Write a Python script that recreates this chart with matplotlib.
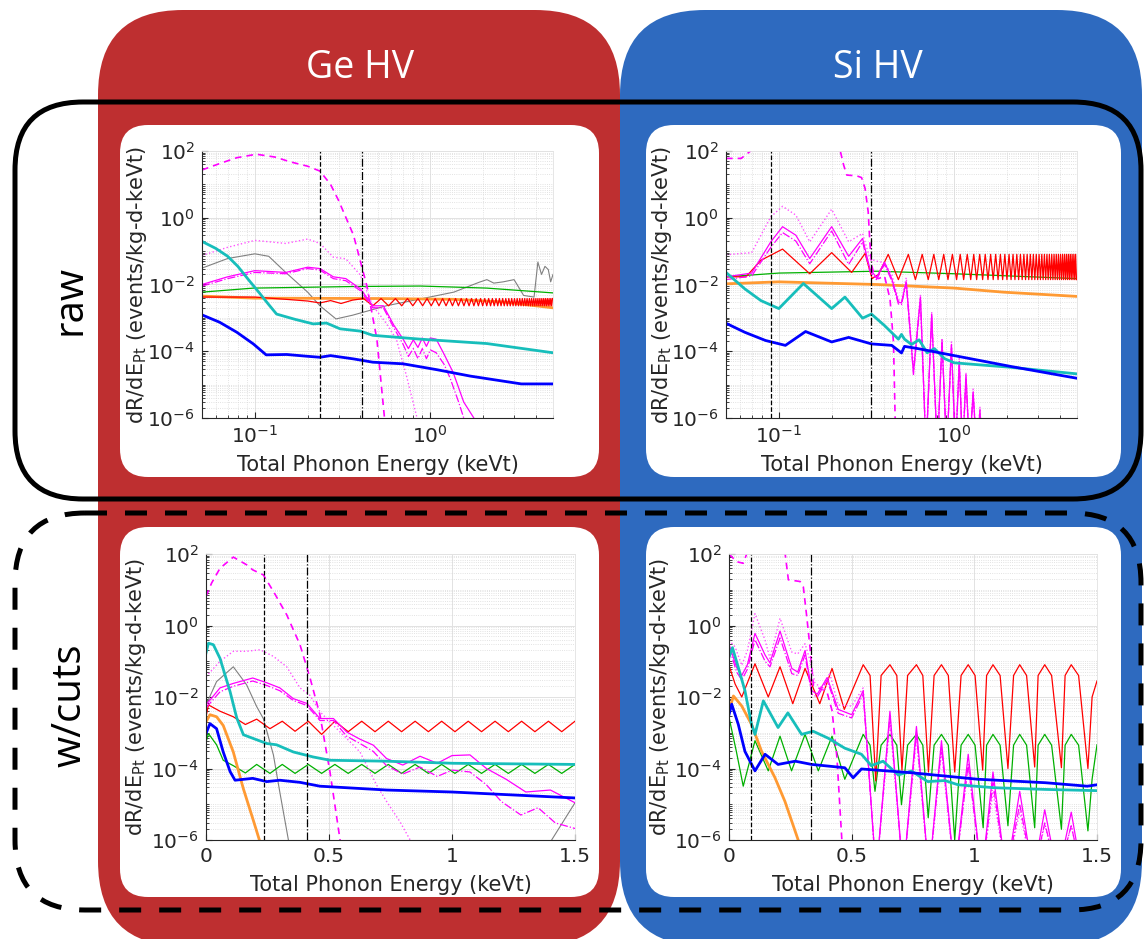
import numpy as np
import matplotlib.pyplot as plt
from matplotlib.patches import FancyBboxPatch
from matplotlib.ticker import FixedLocator, LogLocator, LogFormatterMathtext, NullFormatter

# energies in keVt, rates in events/kg-d-keVt

# ---- Ge HV, raw ----
ge_raw_mag_dash = [(0.05, 27), (0.063, 42), (0.079, 63), (0.102, 80), (0.13, 66), (0.16, 47), (0.2, 35),
                   (0.235, 25), (0.27, 10), (0.3, 3.3), (0.365, 0.3), (0.435, 0.009), (0.496, 2.3e-4),
                   (0.548, 1e-6), (0.56, 1e-7)]
ge_raw_mag_dot = [(0.05, 0.074), (0.07, 0.13), (0.1, 0.21), (0.15, 0.17), (0.2, 0.23), (0.235, 0.17),
                  (0.28, 0.066), (0.33, 0.059), (0.4, 0.019), (0.47, 0.0023), (0.56, 7e-4), (0.64, 2.3e-4),
                  (0.73, 1.9e-5), (0.84, 1e-6), (0.86, 1e-7)]
ge_raw_mag_solid = [(0.05, 0.01), (0.07, 0.017), (0.1, 0.026), (0.15, 0.023), (0.2, 0.033), (0.235, 0.03),
                    (0.28, 0.017), (0.33, 0.015), (0.4, 0.0074), (0.47, 0.0023), (0.54, 0.0023), (0.62, 6e-4),
                    (0.7, 2.3e-4), (0.75, 1.2e-4), (0.8, 2.2e-4), (0.85, 1.3e-4), (0.9, 2.5e-4), (0.95, 1.4e-4),
                    (1.0, 2.5e-4), (1.08, 2.3e-4), (1.2, 8e-5), (1.35, 2.3e-5), (1.55, 3e-6), (1.77, 1e-6),
                    (1.8, 1e-7)]
ge_raw_mag_dashdot = [(0.05, 0.009), (0.07, 0.015), (0.1, 0.023), (0.15, 0.021), (0.2, 0.03), (0.235, 0.027),
                      (0.28, 0.015), (0.33, 0.013), (0.4, 0.0065), (0.47, 0.002), (0.54, 0.002), (0.62, 5e-4),
                      (0.7, 1.6e-4), (0.75, 7e-5), (0.8, 1.2e-4), (0.85, 6e-5), (0.9, 1.2e-4), (0.95, 6e-5),
                      (1.0, 1.1e-4), (1.08, 9e-5), (1.2, 4e-5), (1.3, 1.5e-5), (1.45, 3e-6), (1.55, 1e-6),
                      (1.57, 1e-7)]
ge_raw_gray = [(0.05, 0.031), (0.07, 0.06), (0.1, 0.083), (0.12, 0.07), (0.15, 0.023), (0.2, 0.0059),
               (0.235, 0.0023), (0.29, 9.3e-4), (0.36, 1.2e-3), (0.56, 2.3e-3), (0.88, 3.7e-3), (1.36, 5.9e-3),
               (1.9, 0.0117), (2.1, 0.014), (2.3, 0.011), (2.6, 0.012), (3.0, 0.014), (3.2, 0.008),
               (3.4, 0.0047), (3.9, 0.0042), (4.1, 0.047), (4.3, 0.02), (4.5, 0.035), (4.7, 0.028),
               (4.85, 0.012), (5.0, 0.02)]
ge_raw_green = [(0.05, 0.0059), (0.098, 0.0078), (0.364, 0.0087), (0.876, 0.009), (2.1, 0.0078), (5.0, 0.0056)]
ge_raw_orange = [(0.05, 0.0045), (0.1, 0.0039), (0.5, 0.0038), (1.36, 0.0036), (2.6, 0.003), (5.0, 0.002)]
ge_raw_red_start = [(0.05, 0.0042), (0.1, 0.0042), (0.15, 0.0036), (0.2, 0.0032), (0.235, 0.0028),
                    (0.27, 0.0033), (0.31, 0.0027), (0.36, 0.0034)]
ge_raw_red_peaks = [0.416, 0.524, 0.633, 0.741, 0.85, 0.958, 1.066, 1.175, 1.283, 1.392, 1.5, 1.608, 1.717,
                    1.825, 1.933, 2.042, 2.15, 2.258, 2.367, 2.475, 2.583, 2.692, 2.8, 2.908, 3.017, 3.125,
                    3.233, 3.342, 3.45, 3.558, 3.667, 3.775, 3.883, 3.992, 4.1, 4.208, 4.317, 4.425, 4.533,
                    4.642, 4.75, 4.858, 4.967]
ge_raw_red_troughs = [0.47, 0.578, 0.687, 0.795, 0.904, 1.012, 1.12, 1.229, 1.337, 1.446, 1.554, 1.662, 1.771,
                      1.879, 1.987, 2.096, 2.204, 2.312, 2.421, 2.529, 2.637, 2.746, 2.854, 2.962, 3.071, 3.179,
                      3.287, 3.396, 3.504, 3.612, 3.721, 3.829, 3.937, 4.046, 4.154, 4.262, 4.371, 4.479, 4.587,
                      4.696, 4.804, 4.912]
ge_raw_red_hi, ge_raw_red_lo = 0.0038, 0.0023
ge_raw_cyan = [(0.05, 0.195), (0.06, 0.12), (0.07, 0.07), (0.08, 0.035), (0.093, 0.013), (0.105, 0.006),
               (0.12, 0.0025), (0.133, 0.0013), (0.17, 9e-4), (0.215, 6.6e-4), (0.256, 7e-4), (0.306, 4.7e-4),
               (0.4, 4e-4), (0.47, 3e-4), (0.88, 2.3e-4), (2.1, 1.7e-4), (5.0, 9e-5)]
ge_raw_blue = [(0.05, 1.23e-3), (0.063, 7.4e-4), (0.079, 3.7e-4), (0.098, 1.66e-4), (0.116, 7.8e-5),
               (0.152, 8e-5), (0.197, 7.1e-5), (0.235, 6.6e-5), (0.27, 7.4e-5), (0.365, 5.9e-5), (0.47, 4.7e-5),
               (0.7, 4.2e-5), (1.09, 2.8e-5), (1.69, 1.8e-5), (3.3, 1.05e-5), (5.0, 1.05e-5)]

# ---- Si HV, raw ----
si_raw_mag_dash = [(0.05, 60), (0.061, 60), (0.069, 100), (0.075, 300), (0.21, 300), (0.224, 100), (0.234, 38),
                   (0.244, 19), (0.278, 18), (0.296, 16), (0.31, 7.6), (0.323, 1.5), (0.33, 0.19),
                   (0.338, 0.038), (0.35, 0.018), (0.37, 0.015), (0.4, 0.018), (0.43, 0.0037), (0.45, 1.9e-4),
                   (0.46, 1e-6), (0.462, 1e-7)]
si_raw_mag_dot = [(0.05, 0.078), (0.07, 0.09), (0.09, 1.07), (0.105, 2.2), (0.125, 1.2), (0.15, 0.19),
                  (0.2, 1.8), (0.25, 0.19), (0.3, 0.34), (0.33, 0.06), (0.36, 0.05), (0.4, 0.045), (0.44, 0.02),
                  (0.48, 3.5e-3), (0.5, 3.2e-3), (0.532, 0.016), (0.585, 3e-5), (0.641, 5e-3), (0.69, 1e-7),
                  (0.743, 1.5e-3), (0.8, 1e-7), (0.851, 2.5e-4), (0.905, 1e-7), (0.963, 1.9e-4), (1.015, 1e-7),
                  (1.067, 6e-5), (1.115, 1e-7), (1.165, 2.3e-5), (1.22, 1e-7), (1.28, 7.4e-6), (1.34, 1e-7),
                  (1.4, 2.1e-6), (1.44, 1e-7)]
si_raw_mag_solid = [(0.05, 0.017), (0.07, 0.022), (0.09, 0.19), (0.105, 0.54), (0.125, 0.3), (0.15, 0.06),
                    (0.2, 0.54), (0.25, 0.07), (0.3, 0.24), (0.33, 0.03), (0.36, 0.016), (0.4, 0.047),
                    (0.44, 0.015), (0.48, 3e-3), (0.5, 2.8e-3), (0.532, 0.012), (0.585, 2.3e-5), (0.641, 4.2e-3),
                    (0.69, 1e-7), (0.743, 1.3e-3), (0.8, 1e-7), (0.851, 2.1e-4), (0.905, 1e-7), (0.963, 1.6e-4),
                    (1.015, 1e-7), (1.067, 5e-5), (1.115, 1e-7), (1.165, 2e-5), (1.22, 1e-7), (1.28, 6e-6),
                    (1.34, 1e-7), (1.4, 1.8e-6), (1.44, 1e-7)]
si_raw_mag_dashdot = [(0.05, 0.014), (0.07, 0.018), (0.09, 0.13), (0.105, 0.36), (0.125, 0.2), (0.15, 0.042),
                      (0.2, 0.4), (0.25, 0.04), (0.3, 0.19), (0.33, 0.025), (0.36, 0.014), (0.4, 0.04),
                      (0.44, 0.013), (0.48, 2.6e-3), (0.5, 2.5e-3), (0.532, 0.011), (0.585, 2e-5),
                      (0.641, 3.5e-3), (0.69, 1e-7), (0.743, 1.1e-3), (0.8, 1e-7), (0.851, 1.8e-4), (0.905, 1e-7),
                      (0.963, 1.3e-4), (1.015, 1e-7), (1.067, 4e-5), (1.115, 1e-7), (1.165, 1.6e-5),
                      (1.22, 1e-7), (1.28, 5e-6), (1.34, 1e-7)]
si_raw_green = [(0.05, 0.017), (0.1, 0.022), (0.364, 0.025), (1.0, 0.021), (5.0, 0.015)]
si_raw_orange = [(0.05, 0.0105), (0.1, 0.012), (0.364, 0.01), (1.0, 0.0078), (1.9, 0.0059), (5.0, 0.0044)]
si_raw_red_start = [(0.05, 0.017), (0.065, 0.017), (0.079, 0.053), (0.105, 0.115), (0.15, 0.021), (0.2, 0.09),
                    (0.26, 0.023), (0.31, 0.085), (0.34, 0.015), (0.37, 0.02)]
si_raw_red_peaks = [0.42, 0.547, 0.656, 0.764, 0.87, 0.975, 1.08, 1.185, 1.29, 1.395, 1.5, 1.61, 1.72, 1.83,
                    1.94, 2.05, 2.16, 2.27, 2.38, 2.49, 2.6, 2.71, 2.82, 2.93, 3.04, 3.15, 3.26, 3.37, 3.48,
                    3.59, 3.7, 3.81, 3.92, 4.03, 4.14, 4.25, 4.36, 4.47, 4.58, 4.69, 4.8, 4.91]
si_raw_red_troughs = [0.48, 0.6, 0.71, 0.815, 0.92, 1.03, 1.13, 1.24, 1.34, 1.45, 1.555, 1.665, 1.775, 1.885,
                      1.995, 2.105, 2.215, 2.325, 2.435, 2.545, 2.655, 2.765, 2.875, 2.985, 3.095, 3.205, 3.315,
                      3.425, 3.535, 3.645, 3.755, 3.865, 3.975, 4.085, 4.195, 4.305, 4.415, 4.525, 4.635, 4.745,
                      4.855, 4.965]
si_raw_red_hi, si_raw_red_lo = 0.08, 0.014
si_raw_cyan = [(0.05, 0.023), (0.064, 0.0074), (0.079, 0.0033), (0.1, 0.0019), (0.138, 0.0107), (0.2, 0.0019),
               (0.238, 0.0042), (0.3, 9.8e-4), (0.337, 0.0013), (0.4, 5.9e-4), (0.48, 2.3e-4), (0.5, 3.2e-4),
               (0.52, 2.3e-4), (0.57, 1.6e-4), (0.63, 2.2e-4), (0.7, 9e-5), (0.77, 1.2e-4), (0.88, 6e-5),
               (1.0, 4.5e-5), (2.1, 3.3e-5), (5.0, 2.1e-5)]
si_raw_blue = [(0.05, 6.9e-4), (0.064, 3.7e-4), (0.084, 2.1e-4), (0.109, 1.5e-4), (0.142, 3.9e-4),
               (0.2, 1.9e-4), (0.25, 2.6e-4), (0.337, 1.66e-4), (0.44, 1.5e-4), (0.5, 8.9e-5), (0.52, 1.4e-4),
               (0.62, 1.2e-4), (1.0, 7.4e-5), (2.1, 3.5e-5), (5.0, 1.55e-5)]

# ---- Ge HV, with cuts ----
ge_cut_mag_dash = [(0, 6.5), (0.023, 15.5), (0.057, 40), (0.111, 82), (0.165, 50), (0.19, 36), (0.233, 26),
                   (0.274, 9), (0.328, 2), (0.382, 0.29), (0.423, 0.034), (0.463, 3.2e-3), (0.504, 8e-5),
                   (0.545, 1e-6), (0.55, 1e-7)]
ge_cut_mag_dot = [(0, 0.037), (0.057, 0.1), (0.111, 0.19), (0.165, 0.19), (0.22, 0.21), (0.274, 0.137),
                  (0.328, 0.07), (0.382, 0.018), (0.423, 0.011), (0.463, 3.9e-3), (0.518, 1.6e-3),
                  (0.572, 6.9e-4), (0.626, 2.9e-4), (0.694, 3.4e-5), (0.734, 1.2e-5), (0.789, 3.2e-6),
                  (0.83, 1e-6), (0.84, 1e-7)]
ge_cut_mag_solid = [(0, 0.006), (0.057, 0.018), (0.111, 0.024), (0.19, 0.034), (0.247, 0.025), (0.3, 0.018),
                    (0.355, 0.009), (0.41, 0.0066), (0.463, 0.0025), (0.518, 0.0025), (0.572, 1.05e-3),
                    (0.626, 6.6e-4), (0.68, 4.5e-4), (0.734, 1.9e-4), (0.8, 1.25e-4), (0.87, 2.2e-4),
                    (0.94, 1.4e-4), (1.0, 2.3e-4), (1.073, 2.4e-4), (1.14, 1e-4), (1.22, 5e-5), (1.3, 2.2e-5),
                    (1.4, 2.5e-5), (1.5, 1.1e-5)]
ge_cut_mag_dashdot = [(0, 0.005), (0.057, 0.014), (0.111, 0.02), (0.19, 0.028), (0.247, 0.021), (0.3, 0.015),
                      (0.355, 0.008), (0.41, 0.0058), (0.463, 0.0022), (0.518, 0.0022), (0.572, 8e-4),
                      (0.626, 5e-4), (0.68, 3e-4), (0.734, 1.2e-4), (0.8, 7e-5), (0.87, 1.1e-4), (0.94, 6e-5),
                      (1.0, 9e-5), (1.073, 8e-5), (1.14, 3.5e-5), (1.2, 1.2e-5), (1.28, 5e-6), (1.35, 8e-6),
                      (1.42, 3e-6), (1.5, 2.1e-6)]
ge_cut_gray = [(0, 0.006), (0.043, 0.027), (0.111, 0.07), (0.165, 0.022), (0.206, 5.4e-3), (0.233, 2.5e-3),
               (0.274, 2.4e-4), (0.3, 2.2e-5), (0.335, 1e-6), (0.34, 1e-7), (1.4, 1e-7), (1.405, 1e-6),
               (1.5, 1.1e-5)]
ge_cut_cyan = [(0, 0.17), (0.01, 0.32), (0.03, 0.29), (0.057, 0.12), (0.098, 0.014), (0.125, 2.6e-3),
               (0.152, 8.8e-4), (0.19, 7e-4), (0.247, 5e-4), (0.287, 4.6e-4), (0.355, 2.9e-4), (0.436, 2.1e-4),
               (0.504, 1.7e-4), (0.734, 1.6e-4), (1.005, 1.4e-4), (1.5, 1.3e-4)]
ge_cut_blue = [(0, 9.5e-4), (0.016, 1.8e-3), (0.043, 1.3e-3), (0.07, 2.9e-4), (0.098, 8.2e-5), (0.118, 4.7e-5),
               (0.19, 5.3e-5), (0.247, 4.3e-5), (0.3, 4.7e-5), (0.382, 4.1e-5), (0.463, 3.2e-5),
               (0.734, 2.5e-5), (1.0, 2.2e-5), (1.5, 1.5e-5)]
ge_cut_orange = [(0, 2e-3), (0.016, 3.2e-3), (0.043, 2.8e-3), (0.07, 1.6e-3), (0.111, 2.9e-4), (0.152, 2.7e-5),
                 (0.19, 4e-6), (0.217, 1e-6), (0.22, 1e-7)]
ge_cut_red = [(0, 2.8e-3), (0.01, 6e-3), (0.057, 4e-3), (0.111, 2.8e-3), (0.16, 1.7e-3), (0.206, 2.4e-3),
              (0.26, 1.3e-3), (0.31, 2.1e-3), (0.362, 1.1e-3), (0.416, 2.1e-3), (0.47, 9e-4), (0.524, 2.1e-3),
              (0.578, 1.07e-3), (0.633, 2.1e-3), (0.687, 1.07e-3), (0.741, 2.1e-3), (0.795, 1.07e-3),
              (0.85, 2.1e-3), (0.904, 1.07e-3), (0.958, 2.1e-3), (1.012, 1.07e-3), (1.066, 2.1e-3),
              (1.12, 1.07e-3), (1.175, 2.1e-3), (1.229, 1.07e-3), (1.283, 2.1e-3), (1.337, 1.07e-3),
              (1.392, 2.1e-3), (1.446, 1.07e-3), (1.5, 2.1e-3)]
ge_cut_green = [(0, 5.5e-4), (0.01, 9.5e-4), (0.043, 4.6e-4), (0.07, 1.7e-4), (0.111, 1.2e-4), (0.16, 7.5e-5),
                (0.206, 1.3e-4), (0.26, 7.3e-5), (0.31, 1.3e-4), (0.362, 7.3e-5), (0.416, 1.3e-4),
                (0.47, 7.3e-5), (0.524, 1.3e-4), (0.578, 7.3e-5), (0.633, 1.3e-4), (0.687, 7.3e-5),
                (0.741, 1.3e-4), (0.795, 7.3e-5), (0.85, 1.3e-4), (0.904, 7.3e-5), (0.958, 1.3e-4),
                (1.012, 7.3e-5), (1.066, 1.3e-4), (1.12, 7.3e-5), (1.175, 1.3e-4), (1.229, 7.3e-5),
                (1.283, 1.3e-4), (1.337, 7.3e-5), (1.392, 1.3e-4), (1.446, 7.3e-5), (1.5, 1.3e-4)]

# ---- Si HV, with cuts ----
si_cut_mag_dash = [(0, 100), (0.031, 61), (0.058, 55), (0.072, 100), (0.08, 300), (0.22, 300), (0.229, 100),
                   (0.242, 19), (0.29, 17), (0.303, 12), (0.317, 1.75), (0.33, 0.25), (0.344, 0.021),
                   (0.371, 0.017), (0.398, 0.015), (0.42, 4.2e-3), (0.44, 2e-4), (0.46, 1e-6), (0.465, 1e-7)]
si_cut_mag_dot = [(0, 0.39), (0.025, 0.25), (0.052, 0.077), (0.075, 0.2), (0.106, 2.15), (0.147, 0.39),
                  (0.167, 0.12), (0.208, 1.6), (0.256, 0.18), (0.28, 0.16), (0.31, 0.31), (0.33, 0.106),
                  (0.35, 0.025), (0.39, 0.015), (0.41, 0.048), (0.445, 6e-3), (0.5, 5.6e-3), (0.547, 0.018),
                  (0.6, 1e-7), (0.656, 2.1e-3), (0.71, 1e-7), (0.764, 7e-4), (0.815, 1e-7), (0.866, 3e-4),
                  (0.92, 1e-7), (0.975, 1.3e-4), (1.03, 1e-7), (1.076, 2.3e-5), (1.13, 1e-7), (1.185, 6.3e-6),
                  (1.24, 1e-7), (1.287, 2.7e-6), (1.34, 1e-7), (1.395, 2.5e-6), (1.44, 1e-7)]
si_cut_mag_solid = [(0, 0.3), (0.031, 0.067), (0.052, 0.04), (0.075, 0.08), (0.106, 0.6), (0.147, 0.15),
                    (0.167, 0.09), (0.208, 0.7), (0.256, 0.063), (0.28, 0.05), (0.31, 0.2), (0.337, 0.015),
                    (0.36, 0.012), (0.4, 0.035), (0.445, 4.5e-3), (0.5, 3.2e-3), (0.547, 0.015), (0.6, 1e-7),
                    (0.656, 4e-3), (0.71, 1e-7), (0.764, 1.5e-3), (0.815, 1e-7), (0.866, 6e-4), (0.92, 1e-7),
                    (0.975, 2.5e-4), (1.03, 1e-7), (1.076, 8e-5), (1.13, 1e-7), (1.185, 2.3e-5), (1.24, 1e-7),
                    (1.287, 7e-6), (1.34, 1e-7), (1.395, 6e-6), (1.44, 1e-7)]
si_cut_mag_dashdot = [(0, 0.25), (0.031, 0.05), (0.052, 0.03), (0.075, 0.06), (0.106, 0.4), (0.147, 0.1),
                      (0.167, 0.07), (0.208, 0.45), (0.256, 0.045), (0.28, 0.04), (0.31, 0.15), (0.337, 0.012),
                      (0.36, 0.01), (0.4, 0.03), (0.445, 3.5e-3), (0.5, 2.6e-3), (0.547, 0.012), (0.6, 1e-7),
                      (0.656, 3e-3), (0.71, 1e-7), (0.764, 1e-3), (0.815, 1e-7), (0.866, 4e-4), (0.92, 1e-7),
                      (0.975, 1.3e-4), (1.03, 1e-7), (1.076, 4e-5), (1.13, 1e-7), (1.185, 1e-5), (1.24, 1e-7),
                      (1.287, 3e-6), (1.34, 1e-7), (1.395, 2.5e-6), (1.44, 1e-7)]
si_cut_red = [(0, 0.077), (0.025, 0.023), (0.052, 0.01), (0.106, 0.085), (0.16, 0.01), (0.208, 0.07),
              (0.26, 0.0065), (0.31, 0.063), (0.37, 0.0065), (0.42, 0.063), (0.47, 4.5e-3), (0.547, 0.08),
              (0.575, 0.04), (0.598, 4.5e-5), (0.62, 0.04), (0.656, 0.08), (0.684, 0.04), (0.705, 9e-5),
              (0.728, 0.04), (0.764, 0.08), (0.79, 0.04), (0.813, 8e-5), (0.836, 0.04), (0.866, 0.08),
              (0.894, 0.04), (0.92, 8e-5), (0.946, 0.04), (0.975, 0.08), (1.003, 0.04), (1.034, 9e-5),
              (1.05, 0.04), (1.076, 0.08), (1.105, 0.04), (1.137, 1e-4), (1.16, 0.04), (1.185, 0.08),
              (1.213, 0.04), (1.246, 1.1e-4), (1.26, 0.04), (1.287, 0.08), (1.315, 0.04), (1.355, 1.05e-4),
              (1.37, 0.04), (1.395, 0.08), (1.425, 0.04), (1.463, 1e-4), (1.48, 0.01), (1.5, 0.028)]
si_cut_green = [(0, 2.7e-3), (0.03, 3e-4), (0.058, 3.2e-5), (0.106, 6e-4), (0.16, 8.6e-5), (0.208, 8e-4),
                (0.255, 8.6e-5), (0.31, 9e-4), (0.364, 8.6e-5), (0.42, 8e-4), (0.472, 5e-5), (0.547, 9e-4),
                (0.575, 4.5e-4), (0.595, 2.3e-5), (0.62, 4.5e-4), (0.656, 9e-4), (0.684, 4.5e-4),
                (0.703, 9.7e-6), (0.728, 4.5e-4), (0.764, 9e-4), (0.79, 4.5e-4), (0.812, 4.2e-6),
                (0.836, 4.5e-4), (0.866, 9e-4), (0.894, 4.5e-4), (0.92, 1e-6), (0.946, 4.5e-4), (0.975, 9e-4),
                (1.003, 4.5e-4), (1.036, 2.2e-6), (1.05, 4.5e-4), (1.076, 9e-4), (1.105, 4.5e-4),
                (1.137, 2.5e-6), (1.16, 4.5e-4), (1.185, 9e-4), (1.213, 4.5e-4), (1.246, 2.2e-6),
                (1.26, 4.5e-4), (1.287, 9e-4), (1.315, 4.5e-4), (1.355, 2e-6), (1.37, 4.5e-4), (1.395, 9e-4),
                (1.425, 4.5e-4), (1.463, 1.8e-6), (1.48, 5e-5), (1.5, 4.6e-4)]
si_cut_cyan = [(0, 0.128), (0.014, 0.24), (0.038, 0.067), (0.065, 0.015), (0.092, 1.7e-3), (0.106, 9e-4),
               (0.14, 7.8e-3), (0.2, 1.4e-3), (0.24, 3.6e-3), (0.296, 9e-4), (0.343, 1.1e-3), (0.405, 7e-4),
               (0.472, 3.7e-4), (0.54, 2.5e-4), (0.58, 1.2e-4), (0.628, 1.6e-4), (0.69, 6.6e-5),
               (0.744, 8.5e-5), (0.81, 4.3e-5), (0.88, 4.6e-5), (0.934, 3.5e-5), (1.08, 2.9e-5),
               (1.29, 2.6e-5), (1.5, 2.4e-5)]
si_cut_blue = [(0, 3.2e-3), (0.011, 6.3e-3), (0.038, 1.7e-3), (0.065, 3e-4), (0.106, 8.6e-5), (0.147, 2.5e-4),
               (0.2, 1.3e-4), (0.27, 1.6e-4), (0.337, 1.3e-4), (0.472, 1.05e-4), (0.506, 5.5e-5),
               (0.54, 9.7e-5), (0.744, 7.6e-5), (1.015, 5e-5), (1.29, 4e-5), (1.46, 3.2e-5), (1.5, 3.5e-5)]
si_cut_orange = [(0, 4e-3), (0.018, 0.0107), (0.052, 5.6e-3), (0.092, 1.7e-3), (0.133, 3e-4), (0.187, 5.6e-5),
                 (0.228, 1.2e-5), (0.282, 1e-6), (0.29, 1e-7)]

# threshold markers (dashed, dash-dot)
ge_thresholds = [0.235, 0.41]
si_thresholds = [0.09, 0.335]


def xy(pts):
    a = np.array(pts, dtype=float)
    return a[:, 0], a[:, 1]


def osc(start, peaks, troughs, hi, lo):
    pts = list(start) + [(p, hi) for p in peaks] + [(t, lo) for t in troughs]
    return sorted(pts)


MAG = '#ff00ff'
STYLES = {
    'gray': dict(color='#808080', lw=0.8),
    'green': dict(color='#00b000', lw=0.9),
    'orange': dict(color='#ff9a33', lw=2.0),
    'red': dict(color='#ff0000', lw=0.9),
    'mag_dash': dict(color=MAG, lw=1.2, ls=(0, (4, 3))),
    'mag_dot': dict(color='#ff55ff', lw=1.0, ls=':'),
    'mag_solid': dict(color=MAG, lw=0.9),
    'mag_dashdot': dict(color=MAG, lw=0.9, ls='-.'),
    'cyan': dict(color='#17bebb', lw=2.0),
    'blue': dict(color='#0000ff', lw=2.0),
}


def draw(ax, curves, thresholds, logx):
    for name, pts in curves:
        e, r = xy(pts)
        ax.plot(e, r, **STYLES[name])
    ax.axvline(thresholds[0], color='k', ls='--', lw=0.9)
    ax.axvline(thresholds[1], color='k', ls='-.', lw=0.9)

    ax.set_yscale('log')
    ax.set_ylim(1e-6, 1e2)
    ax.yaxis.set_major_locator(FixedLocator([1e-6, 1e-4, 1e-2, 1e0, 1e2]))
    ax.yaxis.set_major_formatter(LogFormatterMathtext())
    ax.yaxis.set_minor_locator(LogLocator(base=10, subs=np.arange(1, 10), numticks=50))
    ax.yaxis.set_minor_formatter(NullFormatter())
    if logx:
        ax.set_xscale('log')
        ax.set_xlim(0.05, 5)
        ax.xaxis.set_major_locator(FixedLocator([0.1, 1]))
        ax.xaxis.set_major_formatter(LogFormatterMathtext())
        ax.xaxis.set_minor_locator(LogLocator(base=10, subs=np.arange(2, 10), numticks=20))
        ax.xaxis.set_minor_formatter(NullFormatter())
        ax.grid(True, which='minor', axis='both', color='#d9d9d9', ls=':', lw=0.6)
    else:
        ax.set_xlim(0, 1.5)
        ax.set_xticks([0, 0.5, 1, 1.5])
        ax.set_xticklabels(['0', '0.5', '1', '1.5'])
        ax.grid(True, which='minor', axis='y', color='#d9d9d9', ls=':', lw=0.6)
    ax.grid(True, which='major', color='#e2e2e2', ls='-', lw=0.7)
    ax.set_axisbelow(True)
    for s in ('top', 'right'):
        ax.spines[s].set_color('#e2e2e2')
        ax.spines[s].set_linewidth(0.6)
    for s in ('left', 'bottom'):
        ax.spines[s].set_color('#262626')
        ax.spines[s].set_linewidth(0.8)
    ax.tick_params(which='both', direction='in', colors='#262626', labelsize=14.5, top=False, right=False)
    ax.tick_params(which='major', length=4, pad=5)
    ax.tick_params(which='minor', length=2)
    ax.set_xlabel('Total Phonon Energy (keVt)', fontsize=15, color='#262626')
    ax.set_ylabel(r'dR/dE$_{\mathrm{Pt}}$ (events/kg-d-keVt)', fontsize=15, color='#262626')


W, H = 1145, 939
fig = plt.figure(figsize=(W / 100, H / 100), dpi=100)
bg = fig.add_axes([0, 0, 1, 1])
bg.set_xlim(0, W)
bg.set_ylim(H, 0)
bg.axis('off')


def rbox(x0, y0, x1, y1, r, **kw):
    p = FancyBboxPatch((x0, y0), x1 - x0, y1 - y0,
                       boxstyle='round,pad=0,rounding_size=%g' % r, **kw)
    bg.add_patch(p)


rbox(98, 10, 620, 946, 85, facecolor='#be2f30', edgecolor='none')
rbox(620, 10, 1142, 946, 85, facecolor='#2e6abf', edgecolor='none')
for x0, y0, x1, y1 in [(120, 125, 599, 477), (646, 125, 1121, 477),
                       (120, 527, 599, 897), (646, 527, 1121, 897)]:
    rbox(x0, y0, x1, y1, 28, facecolor='white', edgecolor='none')
rbox(15, 102, 1141, 499, 68, facecolor='none', edgecolor='black', lw=3.6)
rbox(15, 513, 1141, 910, 70, facecolor='none', edgecolor='black', lw=3.6, ls=(0, (4.4, 3.6)))

bg.text(360, 68, 'Ge HV', color='white', fontsize=27, family='Open Sans', ha='center', va='center')
bg.text(878, 68, 'Si HV', color='white', fontsize=27, family='Open Sans', ha='center', va='center')
bg.text(70, 300, 'raw', color='black', fontsize=29, family='Open Sans', rotation=90, ha='center', va='center')
bg.text(70, 705, 'w/cuts', color='black', fontsize=29, family='Open Sans', rotation=90, ha='center', va='center')


def px_axes(x0, y0, x1, y1):
    return fig.add_axes([x0 / W, 1 - y1 / H, (x1 - x0) / W, (y1 - y0) / H])


ax_tl = px_axes(202, 151, 553, 418)
ax_tr = px_axes(726, 151, 1077, 418)
ax_bl = px_axes(206, 554, 575, 840)
ax_br = px_axes(729, 554, 1097, 840)

draw(ax_tl, [('gray', ge_raw_gray), ('green', ge_raw_green), ('orange', ge_raw_orange),
             ('red', osc(ge_raw_red_start, ge_raw_red_peaks, ge_raw_red_troughs, ge_raw_red_hi, ge_raw_red_lo)),
             ('mag_dash', ge_raw_mag_dash), ('mag_dot', ge_raw_mag_dot), ('mag_solid', ge_raw_mag_solid),
             ('mag_dashdot', ge_raw_mag_dashdot), ('cyan', ge_raw_cyan), ('blue', ge_raw_blue)],
     ge_thresholds, True)
draw(ax_tr, [('green', si_raw_green), ('orange', si_raw_orange),
             ('red', osc(si_raw_red_start, si_raw_red_peaks, si_raw_red_troughs, si_raw_red_hi, si_raw_red_lo)),
             ('mag_dash', si_raw_mag_dash), ('mag_dot', si_raw_mag_dot), ('mag_solid', si_raw_mag_solid),
             ('mag_dashdot', si_raw_mag_dashdot), ('cyan', si_raw_cyan), ('blue', si_raw_blue)],
     si_thresholds, True)
draw(ax_bl, [('gray', ge_cut_gray), ('green', ge_cut_green), ('orange', ge_cut_orange), ('red', ge_cut_red),
             ('mag_dash', ge_cut_mag_dash), ('mag_dot', ge_cut_mag_dot), ('mag_solid', ge_cut_mag_solid),
             ('mag_dashdot', ge_cut_mag_dashdot), ('cyan', ge_cut_cyan), ('blue', ge_cut_blue)],
     ge_thresholds, False)
draw(ax_br, [('green', si_cut_green), ('orange', si_cut_orange), ('red', si_cut_red),
             ('mag_dash', si_cut_mag_dash), ('mag_dot', si_cut_mag_dot), ('mag_solid', si_cut_mag_solid),
             ('mag_dashdot', si_cut_mag_dashdot), ('cyan', si_cut_cyan), ('blue', si_cut_blue)],
     si_thresholds, False)

# label placement (axes fractions)
for ax, xl, yl in [(ax_tl, -0.176, -0.185), (ax_tr, -0.176, -0.182),
                   (ax_bl, -0.157, -0.19), (ax_br, -0.157, -0.1875)]:
    ax.xaxis.set_label_coords(0.5, xl)
    ax.xaxis.label.set_verticalalignment('center')
    ax.yaxis.set_label_coords(yl, 0.5)
    ax.yaxis.label.set_verticalalignment('center')

fig.savefig('out.png', dpi=100)
